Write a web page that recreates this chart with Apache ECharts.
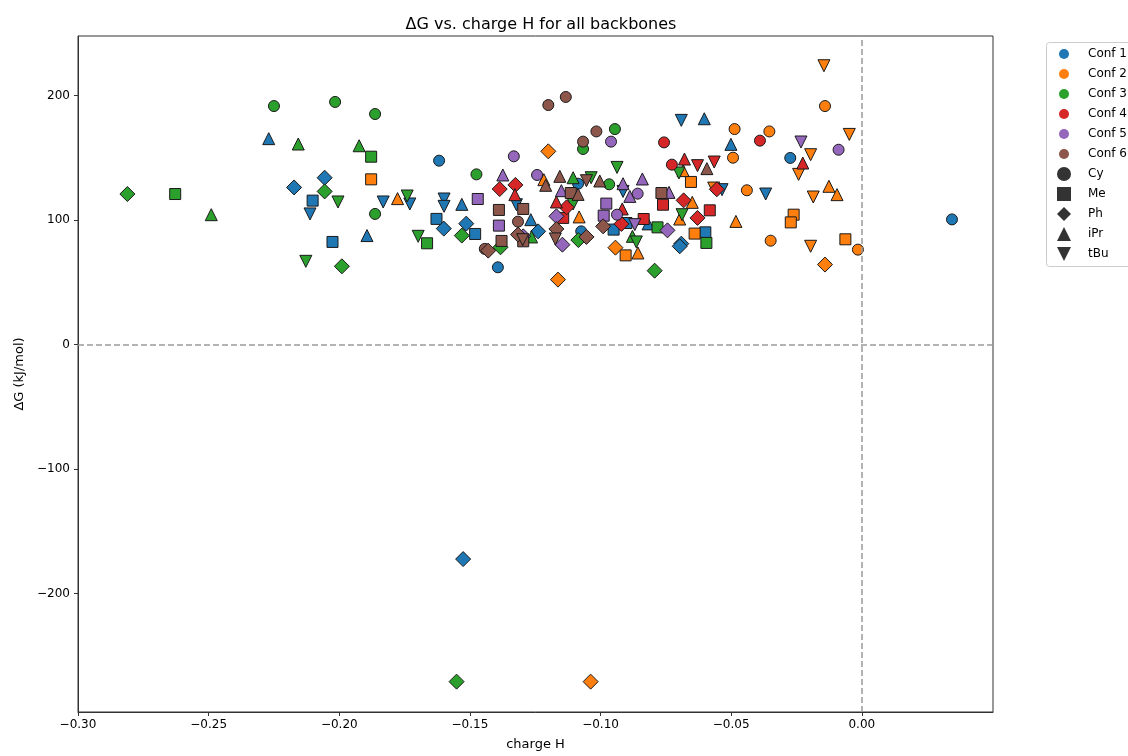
<!DOCTYPE html>
<html><head><meta charset="utf-8">
<script src="https://cdn.jsdelivr.net/npm/echarts@6/dist/echarts.min.js"></script>
<style>html,body{margin:0;padding:0;background:#fff}#c{width:1128px;height:756px}</style>
</head><body><div id="c"></div>
<script>
const confNames = ['Conf 1','Conf 2','Conf 3','Conf 4','Conf 5','Conf 6'];
const confColors = ['#1f77b4','#ff7f0e','#2ca02c','#d62728','#9467bd','#8c564b'];
const backbones = ['Cy','Me','Ph','iPr','tBu'];
const xTicks = [-0.30,-0.25,-0.20,-0.15,-0.10,-0.05,0.00];
const yTicks = [-200,-100,0,100,200];

// [charge H, dG, backbone]
const conf1 = [
 [-0.1618,147.8,'Cy'],[-0.1393,62.1,'Cy'],[-0.1086,129.3,'Cy'],[-0.1074,91,'Cy'],[-0.0274,150,'Cy'],[0.0345,100.6,'Cy'],
 [-0.2102,115.7,'Me'],[-0.2026,82.5,'Me'],[-0.1628,101,'Me'],[-0.148,88.9,'Me'],[-0.095,92.4,'Me'],[-0.0901,97.7,'Me'],[-0.0599,90.2,'Me'],
 [-0.2173,126.3,'Ph'],[-0.2056,134.1,'Ph'],[-0.16,93.2,'Ph'],[-0.1514,97.2,'Ph'],[-0.1239,91,'Ph'],[-0.0691,81.1,'Ph'],[-0.0697,79,'Ph'],[-0.1526,-172.4,'Ph'],
 [-0.227,165.5,'iPr'],[-0.1894,87.6,'iPr'],[-0.1531,112.7,'iPr'],[-0.1267,100.4,'iPr'],[-0.0818,97,'iPr'],[-0.0603,181.5,'iPr'],[-0.0501,160.9,'iPr'],
 [-0.2112,105,'tBu'],[-0.1832,114.6,'tBu'],[-0.173,113,'tBu'],[-0.1599,117,'tBu'],[-0.1599,111.1,'tBu'],[-0.1322,112.4,'tBu'],[-0.0914,123.1,'tBu'],[-0.0691,180.2,'tBu'],[-0.0368,121,'tBu'],[-0.0535,124.5,'tBu']
];
const conf2 = [
 [-0.0487,173.2,'Cy'],[-0.0354,171.3,'Cy'],[-0.0493,150.2,'Cy'],[-0.044,124,'Cy'],[-0.0349,83.5,'Cy'],[-0.0141,191.7,'Cy'],[-0.0015,76.3,'Cy'],
 [-0.1878,132.8,'Me'],[-0.0654,130.7,'Me'],[-0.064,89.2,'Me'],[-0.0904,71.7,'Me'],[-0.0261,104.4,'Me'],[-0.0272,98.2,'Me'],[-0.0063,84.6,'Me'],
 [-0.12,155.3,'Ph'],[-0.1163,52.2,'Ph'],[-0.0943,77.9,'Ph'],[-0.0141,64.3,'Ph'],[-0.1038,-270.9,'Ph'],
 [-0.1777,117.3,'iPr'],[-0.1217,132.5,'iPr'],[-0.1082,102.6,'iPr'],[-0.0684,139.8,'iPr'],[-0.0649,114.3,'iPr'],[-0.0697,100.9,'iPr'],[-0.0857,73.6,'iPr'],[-0.0482,99,'iPr'],[-0.0126,127.2,'iPr'],[-0.0095,120.5,'iPr'],
 [-0.0567,125.8,'tBu'],[-0.0145,224.1,'tBu'],[-0.0048,168.9,'tBu'],[-0.0196,152.6,'tBu'],[-0.0242,136.8,'tBu'],[-0.0186,118.6,'tBu'],[-0.0196,79,'tBu']
];
const conf3 = [
 [-0.225,191.7,'Cy'],[-0.2016,195,'Cy'],[-0.1863,185.3,'Cy'],[-0.1863,105,'Cy'],[-0.1475,136.8,'Cy'],[-0.1067,157.2,'Cy'],[-0.0945,173.2,'Cy'],[-0.0967,128.8,'Cy'],
 [-0.2628,121,'Me'],[-0.1878,151,'Me'],[-0.1664,81.4,'Me'],[-0.0782,94.2,'Me'],[-0.0595,81.7,'Me'],
 [-0.2811,121,'Ph'],[-0.2056,123.1,'Ph'],[-0.199,62.9,'Ph'],[-0.1531,87.6,'Ph'],[-0.1383,78.2,'Ph'],[-0.0793,59.4,'Ph'],[-0.1551,-270.9,'Ph'],[-0.1085,84,'Ph'],
 [-0.249,104.4,'iPr'],[-0.2157,161.2,'iPr'],[-0.1924,159.8,'iPr'],[-0.1105,134.1,'iPr'],[-0.1264,86.5,'iPr'],[-0.0878,87,'iPr'],
 [-0.2128,66.9,'tBu'],[-0.2005,114.6,'tBu'],[-0.174,119.4,'tBu'],[-0.1698,87,'tBu'],[-0.1105,113,'tBu'],[-0.1036,134.1,'tBu'],[-0.0937,142.4,'tBu'],[-0.07,137.9,'tBu'],[-0.0688,104.4,'tBu'],[-0.0863,82.5,'tBu']
];
const conf4 = [
 [-0.0757,162.5,'Cy'],[-0.0727,144.6,'Cy'],[-0.039,163.9,'Cy'],
 [-0.1143,101.8,'Me'],[-0.0761,112.4,'Me'],[-0.0582,107.9,'Me'],[-0.0835,100.9,'Me'],
 [-0.1386,125,'Ph'],[-0.1326,128.3,'Ph'],[-0.113,110.3,'Ph'],[-0.0682,115.9,'Ph'],[-0.0629,101.8,'Ph'],[-0.092,97,'Ph'],[-0.0555,124.8,'Ph'],
 [-0.1328,120.5,'iPr'],[-0.1169,114.6,'iPr'],[-0.0679,149.1,'iPr'],[-0.0226,145.9,'iPr'],[-0.0917,109,'iPr'],
 [-0.0629,143.8,'tBu'],[-0.0565,146.7,'tBu']
];
const conf5 = [
 [-0.1332,151.3,'Cy'],[-0.1243,136.3,'Cy'],[-0.096,163.1,'Cy'],[-0.0858,121.3,'Cy'],[-0.0089,156.6,'Cy'],[-0.0937,104.4,'Cy'],
 [-0.147,117,'Me'],[-0.1389,95.6,'Me'],[-0.0978,113.3,'Me'],[-0.0988,103.6,'Me'],
 [-0.1169,103.1,'Ph'],[-0.1146,80.3,'Ph'],[-0.0744,91.8,'Ph'],[-0.1296,87,'Ph'],
 [-0.1374,136.3,'iPr'],[-0.115,123.7,'iPr'],[-0.084,133.1,'iPr'],[-0.0914,129.3,'iPr'],[-0.0888,119.1,'iPr'],[-0.0738,122.3,'iPr'],
 [-0.0869,96.4,'tBu'],[-0.0233,162.8,'tBu']
];
const conf6 = [
 [-0.12,192.5,'Cy'],[-0.1133,199,'Cy'],[-0.1016,171.3,'Cy'],[-0.1067,163.1,'Cy'],[-0.1443,76.9,'Cy'],[-0.1316,98.8,'Cy'],
 [-0.1389,108.2,'Me'],[-0.1379,83.3,'Me'],[-0.1114,121.8,'Me'],[-0.1296,109,'Me'],[-0.0767,121.8,'Me'],[-0.1296,83,'Me'],
 [-0.143,75.5,'Ph'],[-0.1316,88.4,'Ph'],[-0.1169,92.9,'Ph'],[-0.1054,86.5,'Ph'],[-0.099,95,'Ph'],
 [-0.121,128,'iPr'],[-0.1156,135.2,'iPr'],[-0.1086,120.7,'iPr'],[-0.1003,131.5,'iPr'],[-0.0593,141.4,'iPr'],
 [-0.1054,131.7,'tBu'],[-0.1173,84.9,'tBu'],[-0.1298,84.3,'tBu']
];
const confData = [conf1, conf2, conf3, conf4, conf5, conf6];

const markerStyle = {
  Cy:  {symbol:'circle', size:11, rotate:0},
  Me:  {symbol:'rect', size:11, rotate:0},
  Ph:  {symbol:'diamond', size:15, rotate:0},
  iPr: {symbol:'triangle', size:12, rotate:0},
  tBu: {symbol:'triangle', size:12, rotate:180}
};
const legendIcons = {Cy:'circle', Me:'rect', Ph:'diamond', iPr:'triangle', tBu:'path://M0,0 L10,0 L5,10 Z'};

const FONT = 'DejaVu Sans';
const minus = v => (v < 0 ? '\u2212' : '') ;
const fmtX = v => minus(v) + Math.abs(v).toFixed(2);
const fmtY = v => minus(v) + Math.abs(Math.round(v));

const series = confData.map((arr, i) => ({
  name: confNames[i],
  type: 'scatter',
  itemStyle: {color: confColors[i], borderColor: '#1a1a1a', borderWidth: 1, opacity: 1},
  emphasis: {disabled: true},
  data: arr.map(p => {
    const m = markerStyle[p[2]];
    return {value: [p[0], p[1]], symbol: m.symbol, symbolSize: m.size, symbolRotate: m.rotate};
  }),
  markLine: i === 0 ? {
    silent: true, symbol: 'none', animation: false,
    label: {show: false},
    lineStyle: {color: '#9a9a9a', type: [6, 3], width: 1.5},
    data: [{xAxis: 0}, {yAxis: 0}]
  } : undefined
}));
backbones.forEach(b => series.push({name: b, type: 'scatter', itemStyle: {color: '#000'}, data: []}));

const chart = echarts.init(document.getElementById('c'), null, {renderer: 'canvas'});
chart.setOption({
  animation: false,
  backgroundColor: '#fff',
  textStyle: {fontFamily: FONT},
  title: {
    text: '\u0394G vs. charge H for all backbones',
    left: 536, top: 12, textAlign: 'center',
    textStyle: {fontFamily: FONT, fontSize: 16, fontWeight: 'normal', color: '#000'}
  },
  grid: {left: 78, right: 135, top: 36, bottom: 43, show: true, borderColor: '#333', borderWidth: 1, containLabel: false},
  xAxis: {
    type: 'value', min: -0.30, max: 0.0502,
    name: 'charge H', nameLocation: 'middle', nameGap: 26,
    nameTextStyle: {fontFamily: FONT, fontSize: 13, color: '#000'},
    axisLine: {show: true, onZero: false, lineStyle: {color: '#333', width: 1}},
    axisTick: {show: true, length: 4, lineStyle: {color: '#333'}, customValues: xTicks},
    axisLabel: {fontFamily: FONT, fontSize: 12, color: '#000', margin: 7, formatter: fmtX, customValues: xTicks},
    splitLine: {show: false}
  },
  yAxis: {
    type: 'value', min: -295.3, max: 248,
    name: '\u0394G (kJ/mol)', nameLocation: 'middle', nameGap: 52, nameRotate: 90,
    nameTextStyle: {fontFamily: FONT, fontSize: 13, color: '#000'},
    axisLine: {show: true, onZero: false, lineStyle: {color: '#333', width: 1}},
    axisTick: {show: true, length: 4, lineStyle: {color: '#333'}, customValues: yTicks},
    axisLabel: {fontFamily: FONT, fontSize: 12, color: '#000', margin: 8, formatter: fmtY, customValues: yTicks},
    splitLine: {show: false}
  },
  legend: [
    {
      orient: 'vertical', left: 1059, top: 48, padding: 0, itemGap: 8,
      itemWidth: 10, itemHeight: 10, selectedMode: false,
      itemStyle: {borderWidth: 0},
      textStyle: {fontFamily: FONT, fontSize: 12, color: '#000', padding: [0,0,0,14]},
      data: confNames.map(n => ({name: n, icon: 'circle'}))
    },
    {
      orient: 'vertical', left: 1057, top: 167, padding: 0, itemGap: 6,
      itemWidth: 14, itemHeight: 14, selectedMode: false,
      itemStyle: {borderWidth: 0},
      textStyle: {fontFamily: FONT, fontSize: 12, color: '#000', padding: [0,0,0,12]},
      data: backbones.map(b => ({name: b, icon: legendIcons[b]}))
    }
  ],
  graphic: [{
    type: 'rect', left: 1046, top: 42, z: -1,
    shape: {width: 120, height: 224, r: 3},
    style: {fill: '#fff', stroke: '#cccccc', lineWidth: 1}
  }],
  series: series
});
</script>
</body></html>
